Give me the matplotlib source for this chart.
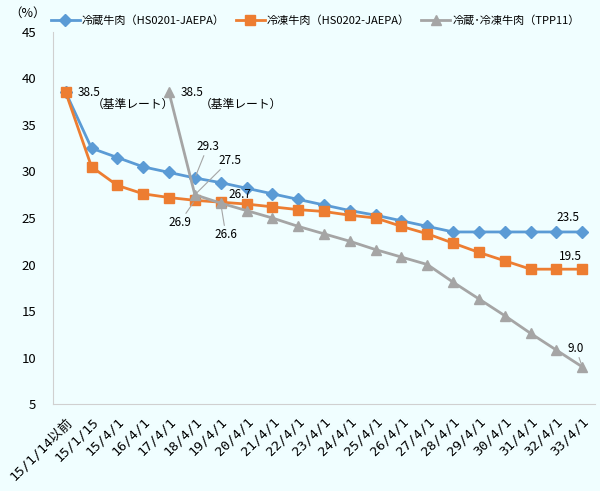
import numpy as np
import matplotlib.pyplot as plt

plt.rcParams['font.family'] = ['Noto Sans CJK JP', 'DejaVu Sans']

categories = ['15/1/14以前', '15/1/15', '15/4/1', '16/4/1', '17/4/1', '18/4/1', '19/4/1',
              '20/4/1', '21/4/1', '22/4/1', '23/4/1', '24/4/1', '25/4/1', '26/4/1',
              '27/4/1', '28/4/1', '29/4/1', '30/4/1', '31/4/1', '32/4/1', '33/4/1']
chilled = [38.5, 32.5, 31.5, 30.5, 29.9, 29.3, 28.8, 28.2, 27.6, 27.0, 26.4,
           25.8, 25.3, 24.7, 24.1, 23.5, 23.5, 23.5, 23.5, 23.5, 23.5]
frozen = [38.5, 30.5, 28.5, 27.6, 27.2, 26.9, 26.7, 26.5, 26.2, 25.9, 25.7,
          25.3, 25.0, 24.1, 23.3, 22.3, 21.3, 20.4, 19.5, 19.5, 19.5]
tpp_start = 4
tpp = [38.5, 27.5, 26.6, 25.8, 25.0, 24.1, 23.3, 22.5, 21.6, 20.8, 20.0,
       18.1, 16.3, 14.5, 12.6, 10.8, 9.0]

bg = '#F0FEFF'
fig = plt.figure(figsize=(6, 4.91), dpi=100, facecolor=bg)
ax = fig.add_axes([0.088, 0.177, 0.904, 0.758], facecolor=bg)

x = np.arange(len(categories))
xt = np.arange(tpp_start, tpp_start + len(tpp))
ax.plot(x, chilled, color='#5B9BD5', marker='D', markersize=6, lw=2,
        label='冷蔵牛肉（HS0201-JAEPA）')
ax.plot(x, frozen, color='#ED7D31', marker='s', markersize=7, lw=2,
        label='冷凍牛肉（HS0202-JAEPA）')
ax.plot(xt, tpp, color='#A5A5A5', marker='^', markersize=7, lw=2,
        label='冷蔵･冷凍牛肉（TPP11）')

ax.set_xlim(-0.5, len(categories) - 0.5)
ax.set_ylim(5, 45)
ax.set_yticks(range(5, 50, 5))
ax.set_xticks(x)
ax.set_xticklabels(categories, rotation=45, ha='right', rotation_mode='anchor',
                   family=['DejaVu Sans Mono', 'Noto Sans CJK JP'], fontsize=9.5)
ax.tick_params(axis='both', length=0, labelsize=9.5)
ax.tick_params(axis='x', pad=8)
ax.tick_params(axis='y', pad=12)
for s in ['top', 'right']:
    ax.spines[s].set_visible(False)
for s in ['left', 'bottom']:
    ax.spines[s].set_color('#D0D0D0')

fs = 8.5
ax.text(0.45, 38.5, '38.5', fontsize=fs, va='center')
ax.text(1.0, 37.2, '（基準レート）', fontsize=fs, va='center')
ax.text(4.45, 38.5, '38.5', fontsize=fs, va='center')
ax.text(5.2, 37.2, '（基準レート）', fontsize=fs, va='center')

lead = dict(arrowstyle='-', color='#A5A5A5', lw=0.8, shrinkA=0, shrinkB=2)
ax.annotate('29.3', xy=(5, chilled[5]), xytext=(5.05, 32.7), fontsize=fs,
            ha='left', va='center', arrowprops=lead)
ax.annotate('27.5', xy=(5, tpp[1]), xytext=(5.9, 31.2), fontsize=fs,
            ha='left', va='center', arrowprops=lead)
ax.annotate('26.9', xy=(5, frozen[5]), xytext=(4.85, 24.5), fontsize=fs,
            ha='right', va='center', arrowprops=lead)
ax.annotate('26.6', xy=(6, tpp[2]), xytext=(6.2, 23.2), fontsize=fs,
            ha='center', va='center', arrowprops=lead)
ax.text(6.3, 27.5, '26.7', fontsize=fs, va='center')
ax.text(19.45, 25.1, '23.5', fontsize=fs, va='center', ha='center')
ax.text(19.55, 20.9, '19.5', fontsize=fs, va='center', ha='center')
ax.annotate('9.0', xy=(20, tpp[-1]), xytext=(19.75, 11.0), fontsize=fs,
            ha='center', va='center', arrowprops=lead)

fig.text(0.015, 0.972, '（%）', fontsize=9, va='center')
ax.legend(loc='lower left', bbox_to_anchor=(-0.012, 1.005), ncol=3, frameon=False,
          fontsize=8, handlelength=2.6, columnspacing=1.0, borderaxespad=0,
          handletextpad=0.2)

fig.savefig('out.png', dpi=100, facecolor=bg)
